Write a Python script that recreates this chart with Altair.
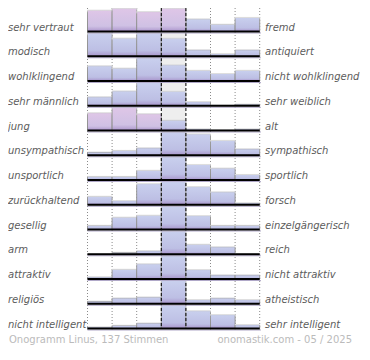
import altair as alt
import pandas as pd

# ---------------- data ----------------
left_labels = ["sehr vertraut", "modisch", "wohlklingend", "sehr männlich", "\u00a0jung",
               "unsympathisch", "unsportlich", "zurückhaltend", "gesellig", "arm",
               "attraktiv", "religiös", "nicht intelligent"]
right_labels = ["fremd", "antiquiert", "nicht wohlklingend", "sehr weiblich", "alt",
                "sympathisch", "sportlich", "forsch", "einzelgängerisch", "reich",
                "nicht attraktiv", "atheistisch", "sehr intelligent"]
# relative bar heights per row (7 steps, left pole -> right pole), max = 24
values = [
    [22.0, 24.0, 20.5, 24.0, 13.0, 7.5, 14.5],
    [24.0, 18.7, 24.0, 18.7, 6.7, 2.7, 6.7],
    [15.7, 13.3, 24.0, 16.7, 11.0, 7.7, 11.0],
    [9.3, 15.3, 24.0, 15.0, 4.3, 0.7, 1.7],
    [18.3, 24.0, 17.3, 10.7, 1.7, 0.7, 1.7],
    [3.3, 5.0, 7.7, 24.0, 22.0, 15.3, 6.7],
    [3.7, 3.7, 10.0, 24.0, 16.0, 12.3, 5.7],
    [8.7, 4.3, 21.7, 24.0, 18.7, 13.3, 2.0],
    [4.3, 12.7, 14.7, 24.0, 14.3, 4.3, 4.3],
    [0.7, 2.0, 3.7, 24.0, 10.3, 7.7, 0.7],
    [2.3, 10.0, 15.7, 24.0, 9.7, 4.3, 4.3],
    [2.7, 6.0, 7.0, 24.0, 4.3, 6.0, 4.3],
    [1.7, 3.3, 5.7, 24.0, 18.3, 14.3, 4.0],
]
highlighted = [(0, 0), (0, 1), (0, 2), (0, 3), (4, 0), (4, 1), (4, 2)]
footer_left = "Onogramm Linus, 137 Stimmen"
footer_right = "onomastik.com - 05 / 2025"

# ---------------- layout ----------------
W, H = 354, 340
X0, COL = 79.5, 24.6          # pixel of first column boundary, column width
RIGHT_X = 257
BASE0, ROW, K = 23.5, 24.75, 0.97
N = len(values)

xs = alt.Scale(domain=[-X0 / COL, (W - X0) / COL], nice=False, zero=False)
ys = alt.Scale(domain=[0, H], range=[0, H], nice=False, zero=False)

bars = pd.DataFrame([
    dict(row=i, col=j, value=v, hl=(i, j) in highlighted)
    for i, r in enumerate(values) for j, v in enumerate(r)
])
labels = pd.DataFrame(dict(row=list(range(N)), left=left_labels, right=right_labels))
grid = pd.DataFrame(dict(c=[0, 1, 2, 5, 6, 7]))
mid = pd.DataFrame(dict(c=[3, 4]))

base_expr = f"{BASE0} + datum.row * {ROW}"


def grad(stops):
    return alt.Gradient(gradient="linear", x1=0, x2=0, y1=0, y2=1,
                        stops=[alt.GradientStop(color=c, offset=o) for o, c in stops])


blue = grad([(0, "#c9d0ee"), (0.75, "#bdbfe4"), (1, "#a894cb")])
pink = grad([(0, "#dfc6e7"), (0.75, "#cfc1e4"), (1, "#ab95cc")])
edge = grad([(0, "#dedede"), (0.12, "#9c9c9c"), (1, "#8c8c8c")])

base_enc = dict(x=alt.X("c0:Q", scale=xs, axis=None), x2="c1:Q")

grid_layer = alt.Chart(grid).transform_calculate(
    y0="0", y1=f"{BASE0} + {N - 1} * {ROW} + 1"
).mark_rule(color="#8a8a8a", strokeDash=[1, 2], strokeWidth=1).encode(
    x=alt.X("c:Q", scale=xs, axis=None),
    y=alt.Y("y0:Q", scale=ys, axis=None), y2="y1:Q")

bg_layer = alt.Chart(labels).transform_calculate(
    c0="3", c1="4", base=base_expr, top=f"datum.base - 24 * {K}"
).mark_rect(color="#eeeeee").encode(
    y=alt.Y("top:Q", scale=ys, axis=None), y2="base:Q", **base_enc)


def bar_layer(flag, fill):
    return alt.Chart(bars).transform_filter(
        f"datum.hl == {str(flag).lower()}"
    ).transform_calculate(
        c0="datum.col", c1="datum.col + 1", base=base_expr,
        top=f"datum.base - datum.value * {K}"
    ).mark_rect(fill=fill, stroke=edge, strokeWidth=1).encode(
        y=alt.Y("top:Q", scale=ys, axis=None), y2="base:Q", **base_enc)


dash_layer = alt.Chart(mid).transform_calculate(
    y0="0", y1=f"{BASE0} + {N - 1} * {ROW}"
).mark_rule(color="#000000", strokeDash=[3, 2], strokeWidth=1).encode(
    x=alt.X("c:Q", scale=xs, axis=None),
    y=alt.Y("y0:Q", scale=ys, axis=None), y2="y1:Q")

shadow_layer = alt.Chart(labels).transform_calculate(
    c0="0", c1="7.05", base=f"{base_expr} + 1.5"
).mark_rule(color="#b0a8c8", strokeWidth=1).encode(
    y=alt.Y("base:Q", scale=ys, axis=None), **base_enc)

axis_layer = alt.Chart(labels).transform_calculate(
    c0="0", c1="7", base=base_expr
).mark_rule(color="#000000", strokeWidth=2).encode(
    y=alt.Y("base:Q", scale=ys, axis=None), **base_enc)

txt = dict(font="DejaVu Sans", fontSize=10, fontStyle="italic", color="#5c5c5c",
           align="left", baseline="alphabetic")
left_layer = alt.Chart(labels).transform_calculate(
    ty=f"{base_expr} - 1"
).mark_text(**txt).encode(
    x=alt.value(0), y=alt.Y("ty:Q", scale=ys, axis=None), text="left:N")
right_layer = alt.Chart(labels).transform_calculate(
    ty=f"{base_expr} - 1"
).mark_text(**txt).encode(
    x=alt.value(RIGHT_X), y=alt.Y("ty:Q", scale=ys, axis=None), text="right:N")

foot = pd.DataFrame(dict(t=[footer_left]))
foot2 = pd.DataFrame(dict(t=[footer_right]))
ftxt = dict(font="DejaVu Sans", fontSize=10, color="#bbbbbb", baseline="alphabetic")
footer_l = alt.Chart(foot).mark_text(align="left", **ftxt).encode(
    x=alt.value(1), y=alt.value(H - 5), text="t:N")
footer_r = alt.Chart(foot2).mark_text(align="right", **ftxt).encode(
    x=alt.value(W - 10), y=alt.value(H - 5), text="t:N")

chart = alt.layer(
    grid_layer, bg_layer, bar_layer(False, blue), bar_layer(True, pink),
    dash_layer, shadow_layer, axis_layer, left_layer, right_layer, footer_l, footer_r
).properties(
    width=W, height=H, autosize="none", padding=0, background="white"
).configure_view(stroke=None)

chart.save("out.html", embed_options={"renderer": "svg", "actions": False})
